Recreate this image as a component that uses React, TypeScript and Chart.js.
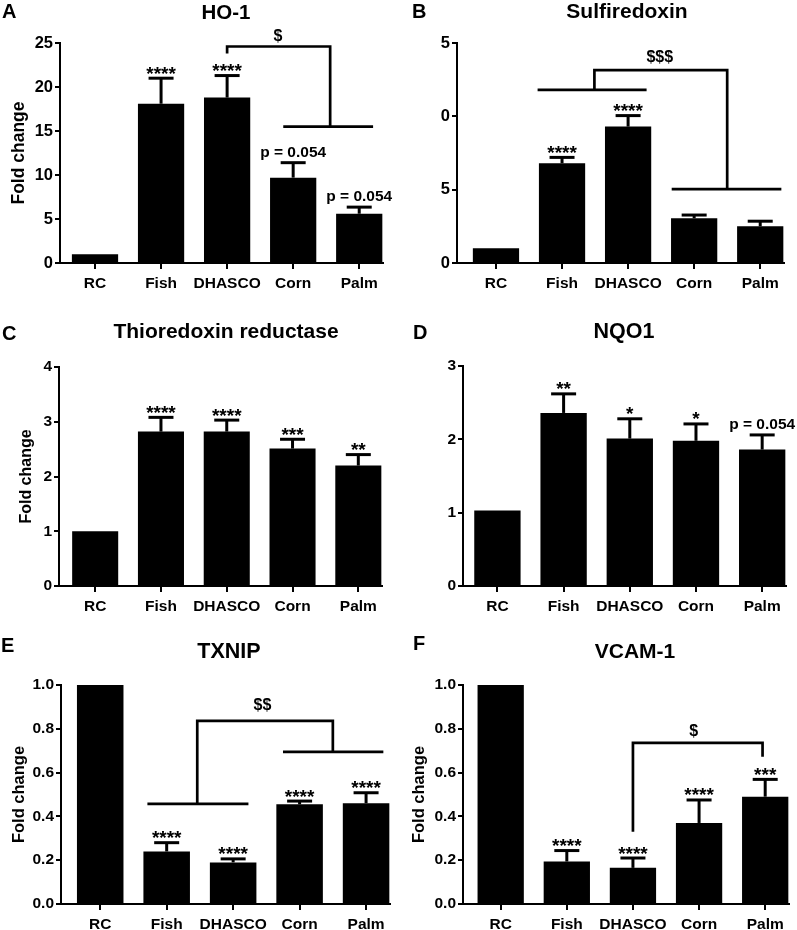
import React, { useEffect, useRef } from "react";
import { Chart, registerables } from "chart.js";

Chart.register(...registerables);

const FONT = '"Liberation Sans", Arial, Helvetica, sans-serif';

// ---------- DATA ----------
const CATEGORIES = ["RC", "Fish", "DHASCO", "Corn", "Palm"];
const CATEGORY_POS = [0, 1, 2, 3, 4];

const HO1_MEAN = [1.0, 18.1, 18.8, 9.7, 5.6];
const HO1_SEM = [0, 2.9, 2.5, 1.7, 0.75];
const HO1_SIG = ["", "****", "****", "p = 0.054", "p = 0.054"];
const HO1_TICKS = ["0", "5", "10", "15", "20", "25"];
const HO1_BRACKETS = [
  [[2, 23.8], [2, 24.6], [3.56, 24.6], [3.56, 15.5]],
  [[2.85, 15.5], [4.21, 15.5]],
];
const HO1_BRACKET_LABEL = { text: "$", x: 2.77, y: 25.2 };

const SRXN_MEAN = [1.0, 6.8, 9.3, 3.05, 2.5];
const SRXN_SEM = [0, 0.4, 0.75, 0.22, 0.35];
const SRXN_SIG = ["", "****", "****", "", ""];
const SRXN_TICKS = ["0", "5", "0", "5"];
const SRXN_BRACKETS = [
  [[0.63, 11.8], [2.28, 11.8]],
  [[1.49, 11.8], [1.49, 13.15], [3.5, 13.15], [3.5, 5.04]],
  [[2.66, 5.04], [4.32, 5.04]],
];
const SRXN_BRACKET_LABEL = { text: "$$$", x: 2.48, y: 13.7 };

const TXNRD_MEAN = [1.0, 2.82, 2.82, 2.51, 2.2];
const TXNRD_SEM = [0, 0.26, 0.21, 0.17, 0.2];
const TXNRD_SIG = ["", "****", "****", "***", "**"];
const TXNRD_TICKS = ["0", "1", "2", "3", "4"];

const NQO1_MEAN = [1.03, 2.36, 2.01, 1.98, 1.86];
const NQO1_SEM = [0, 0.26, 0.27, 0.23, 0.2];
const NQO1_SIG = ["", "**", "*", "*", "p = 0.054"];
const NQO1_TICKS = ["0", "1", "2", "3"];

const TXNIP_MEAN = [1.0, 0.24, 0.19, 0.455, 0.46];
const TXNIP_SEM = [0, 0.04, 0.016, 0.015, 0.048];
const TXNIP_SIG = ["", "****", "****", "****", "****"];
const FRACTION_TICKS = ["0.0", "0.2", "0.4", "0.6", "0.8", "1.0"];
const TXNIP_BRACKETS = [
  [[0.71, 0.457], [2.23, 0.457]],
  [[1.46, 0.457], [1.46, 0.836], [3.5, 0.836], [3.5, 0.695]],
  [[2.75, 0.695], [4.26, 0.695]],
];
const TXNIP_BRACKET_LABEL = { text: "$$", x: 2.44, y: 0.886 };

const VCAM1_MEAN = [1.0, 0.194, 0.165, 0.37, 0.49];
const VCAM1_SEM = [0, 0.05, 0.045, 0.105, 0.079];
const VCAM1_SIG = ["", "****", "****", "****", "***"];
const VCAM1_BRACKETS = [
  [[2, 0.33], [2, 0.736], [3.96, 0.736], [3.96, 0.672]],
];
const VCAM1_BRACKET_LABEL = { text: "$", x: 2.92, y: 0.765 };

// ---------- LAYOUT ----------
type Panel = {
  letter: string;
  title: string;
  mean: number[];
  sem: number[];
  sig: string[];
  brackets: number[][][];
  bracketLabel: { text: string; x: number; y: number } | null;
  yMax: number;
  yStep: number;
  yTicks: string[];
  yTitle: string;
  left: number;
  top: number;
  w: number;
  h: number;
  L: number;
  T: number;
  B: number;
  R: number;
  xMin: number;
  yTitleSize: number;
  yTitleX: number;
  yTickSize: number;
  titleX: number;
  titleY: number;
  titleSize: number;
  letterX: number;
  letterY: number;
};

const X_MAX = 4.36;
const X_AXIS_H = 40;

const PANELS: Panel[] = [
  {
    letter: "A", title: "HO-1", mean: HO1_MEAN, sem: HO1_SEM, sig: HO1_SIG,
    brackets: HO1_BRACKETS, bracketLabel: HO1_BRACKET_LABEL,
    yMax: 25, yStep: 5, yTicks: HO1_TICKS, yTitle: "Fold change",
    left: 0, top: 0, w: 398, h: 320, L: 60, T: 43, B: 263, R: 383, xMin: -0.53,
    yTitleSize: 17.5, yTitleX: 19, yTickSize: 16.5,
    titleX: 226, titleY: 13, titleSize: 20.5, letterX: 2, letterY: 18,
  },
  {
    letter: "B", title: "Sulfiredoxin", mean: SRXN_MEAN, sem: SRXN_SEM, sig: SRXN_SIG,
    brackets: SRXN_BRACKETS, bracketLabel: SRXN_BRACKET_LABEL,
    yMax: 15, yStep: 5, yTicks: SRXN_TICKS, yTitle: "",
    left: 398, top: 0, w: 399, h: 320, L: 59, T: 43, B: 263, R: 386, xMin: -0.59,
    yTitleSize: 17, yTitleX: 19, yTickSize: 16.5,
    titleX: 229, titleY: 12, titleSize: 21, letterX: 14, letterY: 18,
  },
  {
    letter: "C", title: "Thioredoxin reductase", mean: TXNRD_MEAN, sem: TXNRD_SEM, sig: TXNRD_SIG,
    brackets: [], bracketLabel: null,
    yMax: 4, yStep: 1, yTicks: TXNRD_TICKS, yTitle: "Fold change",
    left: 0, top: 300, w: 398, h: 320, L: 59, T: 67, B: 286, R: 382, xMin: -0.55,
    yTitleSize: 16, yTitleX: 27, yTickSize: 15.5,
    titleX: 226, titleY: 32, titleSize: 21, letterX: 2, letterY: 40,
  },
  {
    letter: "D", title: "NQO1", mean: NQO1_MEAN, sem: NQO1_SEM, sig: NQO1_SIG,
    brackets: [], bracketLabel: null,
    yMax: 3, yStep: 1, yTicks: NQO1_TICKS, yTitle: "",
    left: 398, top: 300, w: 399, h: 320, L: 65, T: 66, B: 286, R: 388, xMin: -0.52,
    yTitleSize: 16, yTitleX: 19, yTickSize: 15.5,
    titleX: 226, titleY: 32, titleSize: 21.5, letterX: 15, letterY: 39,
  },
  {
    letter: "E", title: "TXNIP", mean: TXNIP_MEAN, sem: TXNIP_SEM, sig: TXNIP_SIG,
    brackets: TXNIP_BRACKETS, bracketLabel: TXNIP_BRACKET_LABEL,
    yMax: 1, yStep: 0.2, yTicks: FRACTION_TICKS, yTitle: "Fold change",
    left: 0, top: 610, w: 398, h: 320, L: 61, T: 75, B: 294, R: 390, xMin: -0.59,
    yTitleSize: 16.5, yTitleX: 19.5, yTickSize: 15.5,
    titleX: 229, titleY: 42, titleSize: 21.5, letterX: 1, letterY: 42,
  },
  {
    letter: "F", title: "VCAM-1", mean: VCAM1_MEAN, sem: VCAM1_SEM, sig: VCAM1_SIG,
    brackets: VCAM1_BRACKETS, bracketLabel: VCAM1_BRACKET_LABEL,
    yMax: 1, yStep: 0.2, yTicks: FRACTION_TICKS, yTitle: "Fold change",
    left: 398, top: 610, w: 399, h: 320, L: 65, T: 75, B: 294, R: 391, xMin: -0.57,
    yTitleSize: 16.5, yTitleX: 21, yTickSize: 15.5,
    titleX: 237, titleY: 42, titleSize: 21, letterX: 15, letterY: 40,
  },
];

function makeAnnoPlugin(p: Panel) {
  return {
    id: "anno" + p.letter,
    afterDatasetsDraw(chart: any) {
      const ctx = chart.ctx as CanvasRenderingContext2D;
      const xs = chart.scales.x;
      const ys = chart.scales.y;
      ctx.save();
      ctx.strokeStyle = "#000";
      ctx.fillStyle = "#000";
      ctx.lineCap = "butt";
      const meta = chart.getDatasetMeta(0);
      p.mean.forEach((m, i) => {
        const cx = meta.data[i].x;
        const s = p.sem[i];
        const yTop = ys.getPixelForValue(m + (s || 0));
        if (s) {
          const y0 = ys.getPixelForValue(m);
          ctx.lineWidth = 3;
          ctx.beginPath();
          ctx.moveTo(cx, y0);
          ctx.lineTo(cx, yTop);
          ctx.stroke();
          ctx.beginPath();
          ctx.moveTo(cx - 12.5, yTop);
          ctx.lineTo(cx + 12.5, yTop);
          ctx.stroke();
        }
        const label = p.sig[i];
        if (label) {
          ctx.textAlign = "center";
          ctx.textBaseline = "alphabetic";
          if (label.startsWith("p")) {
            ctx.font = `bold 15.5px ${FONT}`;
            ctx.fillText(label, cx, yTop - 6);
          } else {
            ctx.font = `bold 19px ${FONT}`;
            ctx.fillText(label, cx, yTop + 1.5);
          }
        }
      });
      ctx.lineWidth = 2.7;
      ctx.lineJoin = "miter";
      p.brackets.forEach((line) => {
        ctx.beginPath();
        line.forEach(([vx, vy], k) => {
          const px = xs.getPixelForValue(vx);
          const py = ys.getPixelForValue(vy);
          if (k === 0) ctx.moveTo(px, py);
          else ctx.lineTo(px, py);
        });
        ctx.stroke();
      });
      if (p.bracketLabel) {
        ctx.font = `bold 16px ${FONT}`;
        ctx.textAlign = "center";
        ctx.textBaseline = "alphabetic";
        ctx.fillText(
          p.bracketLabel.text,
          xs.getPixelForValue(p.bracketLabel.x),
          ys.getPixelForValue(p.bracketLabel.y)
        );
      }
      ctx.font = `bold ${p.titleSize}px ${FONT}`;
      ctx.textAlign = "center";
      ctx.textBaseline = "middle";
      ctx.fillText(p.title, p.titleX, p.titleY);
      ctx.font = `bold 20px ${FONT}`;
      ctx.textAlign = "left";
      ctx.textBaseline = "alphabetic";
      ctx.fillText(p.letter, p.letterX, p.letterY);
      ctx.restore();
    },
  };
}

function PanelChart({ p }: { p: Panel }) {
  const ref = useRef<HTMLCanvasElement>(null);
  useEffect(() => {
    const canvas = ref.current;
    if (!canvas) return;
    const chart = new Chart(canvas, {
      type: "bar",
      data: {
        datasets: [
          {
            data: p.mean.map((v, i) => ({ x: CATEGORY_POS[i], y: v })),
            backgroundColor: "#000",
            borderWidth: 0,
            barPercentage: 0.7,
            categoryPercentage: 1,
          } as any,
        ],
      },
      options: {
        animation: false,
        responsive: false,
        devicePixelRatio: 1,
        layout: {
          padding: {
            left: 0,
            top: p.T,
            right: p.w - p.R,
            bottom: p.h - p.B - X_AXIS_H,
          },
        },
        plugins: {
          legend: { display: false },
          tooltip: { enabled: false },
          title: { display: false },
        },
        scales: {
          x: {
            type: "linear",
            offset: false,
            min: p.xMin,
            max: X_MAX,
            afterBuildTicks: (s: any) => {
              s.ticks = CATEGORY_POS.map((v) => ({ value: v }));
            },
            afterFit: (s: any) => {
              s.height = X_AXIS_H;
            },
            ticks: {
              autoSkip: false,
              maxRotation: 0,
              padding: 5,
              color: "#000",
              font: { family: FONT, size: 15.5, weight: "bold" },
              callback: (v: any) => CATEGORIES[Math.round(Number(v))] ?? "",
            },
            grid: {
              offset: false,
              drawOnChartArea: false,
              drawTicks: true,
              tickLength: 6,
              color: "#000",
              lineWidth: 2,
            },
            border: { display: true, color: "#000", width: 2 },
          },
          y: {
            min: 0,
            max: p.yMax,
            afterFit: (s: any) => {
              s.width = p.L;
            },
            ticks: {
              stepSize: p.yStep,
              padding: 2,
              color: "#000",
              font: { family: FONT, size: p.yTickSize, weight: "bold" },
              callback: (_v: any, i: number) => p.yTicks[i] ?? "",
            },
            grid: {
              drawOnChartArea: false,
              drawTicks: true,
              tickLength: 5,
              color: "#000",
              lineWidth: 2,
            },
            border: { display: true, color: "#000", width: 2 },
            title: {
              display: !!p.yTitle,
              text: p.yTitle,
              color: "#000",
              font: { family: FONT, size: p.yTitleSize, weight: "bold" },
              padding: { top: p.yTitleX - (p.yTitleSize * 1.2) / 2, bottom: 0 },
            },
          },
        },
      } as any,
      plugins: [makeAnnoPlugin(p)],
    });
    return () => chart.destroy();
  }, [p]);
  return (
    <canvas
      ref={ref}
      width={p.w}
      height={p.h}
      style={{ position: "absolute", left: p.left, top: p.top, width: p.w, height: p.h }}
    />
  );
}

export default function App() {
  return (
    <div
      style={{
        position: "absolute",
        left: 0,
        top: 0,
        width: 797,
        height: 930,
        background: "#fff",
        overflow: "hidden",
      }}
    >
      {PANELS.map((p) => (
        <PanelChart key={p.letter} p={p} />
      ))}
    </div>
  );
}
